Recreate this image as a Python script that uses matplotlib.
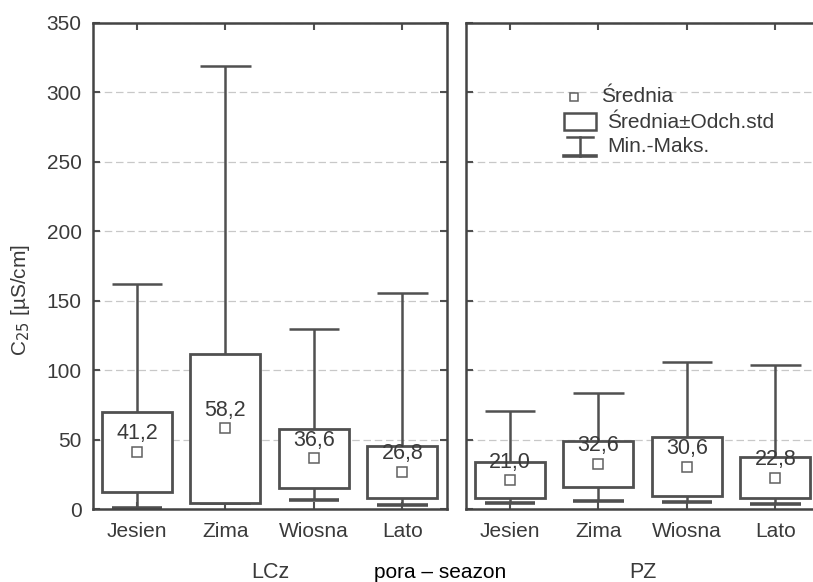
import matplotlib
matplotlib.use("Agg")
import matplotlib.pyplot as plt
from matplotlib.patches import Rectangle
from matplotlib.lines import Line2D

plt.rcParams['font.family'] = ['Liberation Sans', 'DejaVu Sans']

seasons = ["Jesien", "Zima", "Wiosna", "Lato"]
groups = ["LCz", "PZ"]
lcz_mean = [41.2, 58.2, 36.6, 26.8]
lcz_std = [28.9, 53.6, 21.1, 18.7]
lcz_min = [1.0, 4.6, 6.7, 2.9]
lcz_max = [162.0, 319.0, 130.0, 155.5]
pz_mean = [21.0, 32.6, 30.6, 22.8]
pz_std = [13.0, 16.8, 21.1, 14.8]
pz_min = [4.7, 6.2, 5.0, 3.6]
pz_max = [71.0, 84.0, 106.0, 103.5]
yticks = [0, 50, 100, 150, 200, 250, 300, 350]

LINE = "#505050"
TEXT = "#3a3a3a"
W, H = 813, 582
fig = plt.figure(figsize=(W / 100, H / 100), dpi=100)

def px(x0, y0, x1, y1):
    return [x0 / W, 1 - y1 / H, (x1 - x0) / W, (y1 - y0) / H]

ax1 = fig.add_axes(px(92.7, 22.7, 446.7, 509.3))
ax2 = fig.add_axes(px(465.7, 22.7, 819.7, 509.3))

box_w = 0.79
cap_w = 0.57

def draw(ax, mean, std, mn, mx, show_ylabels):
    xs = list(range(len(seasons)))
    lo = [m - s for m, s in zip(mean, std)]
    hi = [m + s for m, s in zip(mean, std)]
    ax.vlines(xs, hi, mx, color=LINE, lw=1.8, zorder=2)
    ax.vlines(xs, mn, lo, color=LINE, lw=1.8, zorder=2)
    ax.hlines(mx, [x - cap_w / 2 for x in xs], [x + cap_w / 2 for x in xs],
              color=LINE, lw=1.8, zorder=2)
    ax.hlines(mn, [x - cap_w / 2 for x in xs], [x + cap_w / 2 for x in xs],
              color=LINE, lw=2.6, zorder=2)
    for x, l, h in zip(xs, lo, hi):
        ax.add_patch(Rectangle((x - box_w / 2, l), box_w, h - l, facecolor="white",
                               edgecolor=LINE, lw=2.0, zorder=3))
    ax.plot(xs, mean, ls="none", marker="s", ms=6.5, mfc="white", mec="#606060",
            mew=1.1, zorder=4)
    for x, m in zip(xs, mean):
        ax.annotate(f"{m:.1f}".replace(".", ","), (x, m), xytext=(0, 13),
                    textcoords="offset points", ha="center", va="center",
                    fontsize=15.5, color=TEXT, zorder=5)
    ax.set_xlim(-0.5, 3.5)
    ax.set_ylim(0, 350)
    ax.set_xticks(xs)
    ax.set_xticklabels(seasons)
    ax.set_yticks(yticks)
    ax.yaxis.grid(True, color="#c8c8c8", lw=0.9, ls=(0, (6, 3)))
    ax.set_axisbelow(True)
    ax.tick_params(axis="both", direction="in", length=5, width=1.5, color=LINE,
                   labelsize=15, labelcolor=TEXT, top=True, right=True)
    ax.tick_params(axis="x", pad=9)
    ax.tick_params(axis="y", pad=8)
    if not show_ylabels:
        ax.tick_params(axis="y", labelleft=False)
    for sp in ax.spines.values():
        sp.set_color("#444444")
        sp.set_linewidth(1.8)

draw(ax1, lcz_mean, lcz_std, lcz_min, lcz_max, True)
draw(ax2, pz_mean, pz_std, pz_min, pz_max, False)

def fx(x):
    return x / W

def fy(y):
    return 1 - y / H

fig.text(fx(20), fy(300), "C$_{25}$ [µS/cm]", rotation=90, ha="center", va="center",
         fontsize=15, color=TEXT)

fig.text(fx(270), fy(572), groups[0], ha="center", va="center", fontsize=15.5, color=TEXT)
fig.text(fx(643), fy(572), groups[1], ha="center", va="center", fontsize=15.5, color=TEXT)
fig.text(fx(440), fy(572), "pora – seazon", ha="center", va="center", fontsize=15,
         color="black")

# legend (drawn manually in figure pixel space)
fig.add_artist(Line2D([fx(574)], [fy(97)], ls="none", marker="s", ms=6, mfc="white",
                      mec="#606060", mew=1.1))
fig.text(fx(601), fy(97), "Średnia", ha="left", va="center", fontsize=15, color=TEXT)
fig.add_artist(Rectangle((fx(564), fy(130)), fx(596) - fx(564), fy(113) - fy(130),
                         facecolor="white", edgecolor=LINE, lw=1.8,
                         transform=fig.transFigure))
fig.text(fx(607), fy(122), "Średnia±Odch.std", ha="left", va="center", fontsize=15,
         color=TEXT)
fig.add_artist(Line2D([fx(567), fx(593)], [fy(137), fy(137)], color=LINE, lw=1.8))
fig.add_artist(Line2D([fx(564), fx(596)], [fy(156.5), fy(156.5)], color=LINE, lw=2.6))
fig.add_artist(Line2D([fx(580), fx(580)], [fy(137), fy(156.5)], color=LINE, lw=1.8))
fig.text(fx(607), fy(147), "Min.-Maks.", ha="left", va="center", fontsize=15, color=TEXT)

fig.savefig("out.png", dpi=100)
